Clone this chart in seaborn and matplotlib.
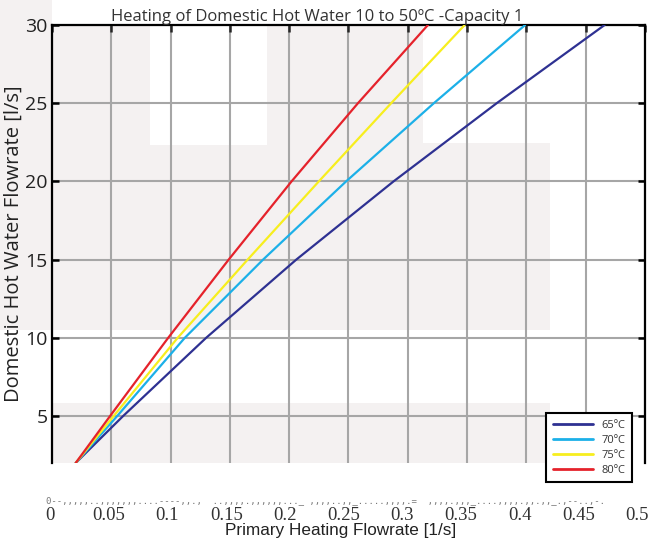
import numpy as np
import pandas as pd
import matplotlib
matplotlib.use('Agg')
import matplotlib.pyplot as plt
import matplotlib.transforms as mtransforms
from matplotlib.patches import Rectangle
import seaborn as sns

# Datos: caudal de ACS (y) vs caudal primario (x)
acs_flow = [2, 5, 10, 15, 20, 25, 30]
primary_65 = [0.020, 0.060, 0.130, 0.206, 0.288, 0.375, 0.466]
primary_70 = [0.020, 0.055, 0.112, 0.178, 0.248, 0.322, 0.399]
primary_75 = [0.020, 0.052, 0.106, 0.165, 0.225, 0.286, 0.348]
primary_80 = [0.020, 0.049, 0.098, 0.149, 0.202, 0.258, 0.317]
series_labels = ['65ºC', '70ºC', '75ºC', '80ºC']
series_colors = ['#2e3192', '#1cb0e8', '#f7ee1e', '#e5222b']
x_ticks = [0, 0.05, 0.1, 0.15, 0.2, 0.25, 0.3, 0.35, 0.4, 0.45, 0.5]
x_tick_labels = ['0', '0.05', '0.1', '0.15', '0.2', '0.25', '0.3', '0.35', '0.4', '0.45', '0.5']
y_ticks = [5, 10, 15, 20, 25, 30]

frames = []
for lab, xs in zip(series_labels, [primary_65, primary_70, primary_75, primary_80]):
    frames.append(pd.DataFrame({'primary': xs, 'acs': acs_flow, 'temp': lab}))
df = pd.concat(frames, ignore_index=True)

sns.set_style('white')
plt.rcParams['font.family'] = ['Open Sans', 'DejaVu Sans']

fig = plt.figure(figsize=(6.53, 5.44), dpi=100)
# franja gris a la izquierda (fondo del original)
fig.patches.append(Rectangle((0, 1 - 330 / 544), 52 / 653, 330 / 544, transform=fig.transFigure,
                             facecolor='#f4f1f1', edgecolor='none', zorder=-5))
ax = fig.add_axes([0.0796, 0.149, 0.908, 0.805])
ax.set_facecolor('#f4f1f1')

# manchas blancas del fondo (marca de agua)
for (x0, y0, w, h) in [(0.165, 0.726, 0.197, 0.274), (0.6256, 0.731, 0.3744, 0.269),
                       (0.84, 0.0, 0.16, 0.731), (0.0, 0.137, 0.84, 0.167)]:
    ax.add_patch(Rectangle((x0, y0), w, h, transform=ax.transAxes, facecolor='white',
                           edgecolor='none', zorder=0.1))

sns.lineplot(data=df, x='primary', y='acs', hue='temp', palette=series_colors,
             sort=False, linewidth=1.6, ax=ax, zorder=3)

ax.set_xlim(0, 0.5)
ax.set_ylim(2, 30)
ax.set_xticks(x_ticks)
ax.set_yticks(y_ticks)
ax.grid(True, color='#a6a6a6', linewidth=1.5)
ax.set_axisbelow(True)

for side in ['left', 'top', 'right']:
    ax.spines[side].set_color('black')
    ax.spines[side].set_linewidth(1.6)
ax.spines['bottom'].set_visible(False)

ax.tick_params(axis='y', left=True, right=True, direction='in', length=5, width=1.8,
               labelsize=14, colors='black', labelcolor='#222222', pad=3)
ax.tick_params(axis='x', top=True, bottom=False, direction='in', length=5, width=1.8,
               pad=32)
ax.set_xticklabels(x_tick_labels, family='Liberation Serif', fontsize=13.5, color='#333333')
for i, lab in enumerate(ax.get_xticklabels()):
    lab.set_transform(lab.get_transform() +
                      mtransforms.ScaledTranslation((-2 - 0.55 * i) / 100, 0, fig.dpi_scale_trans))

ax.set_xlabel('Primary Heating Flowrate [1/s]', family='Liberation Sans', fontsize=12.3,
              color='#222222')
ax.xaxis.set_label_coords(0.486, -0.137)
ax.set_ylabel('Domestic Hot Water Flowrate [l/s]', fontsize=14.5, color='#222222', labelpad=1)
ax.set_title('Heating of Domestic Hot Water 10 to 50ºC -Capacity 1', fontsize=12,
             color='#333333', pad=3, x=0.447)

# fila de marcas ilegibles bajo el eje (artefacto del original)
fig.text(0.07, 0.076,
         "0--,,,,,..,,,,,,,....----,,.,  ..,,,,.,,,,,,..._ ,,,,..,,_.....,,,,.=  "
         ",,,,.,,,_....,,,,.,,.,,_.,--..,-.",
         fontsize=6.5, color='#777777', family='DejaVu Sans Mono')

leg = ax.legend(loc='lower left', bbox_to_anchor=(0.824, -0.057), frameon=True,
                fontsize=8, handlelength=3.6, borderpad=0.6, labelspacing=0.35,
                fancybox=False, edgecolor='black', facecolor='white', framealpha=1)
leg.get_frame().set_linewidth(1.5)
for t in leg.get_texts():
    t.set_color('#333333')
for line in leg.get_lines():
    line.set_linewidth(2)
leg.set_zorder(5)
leg.set_clip_on(False)

fig.savefig('out.png', dpi=100)
